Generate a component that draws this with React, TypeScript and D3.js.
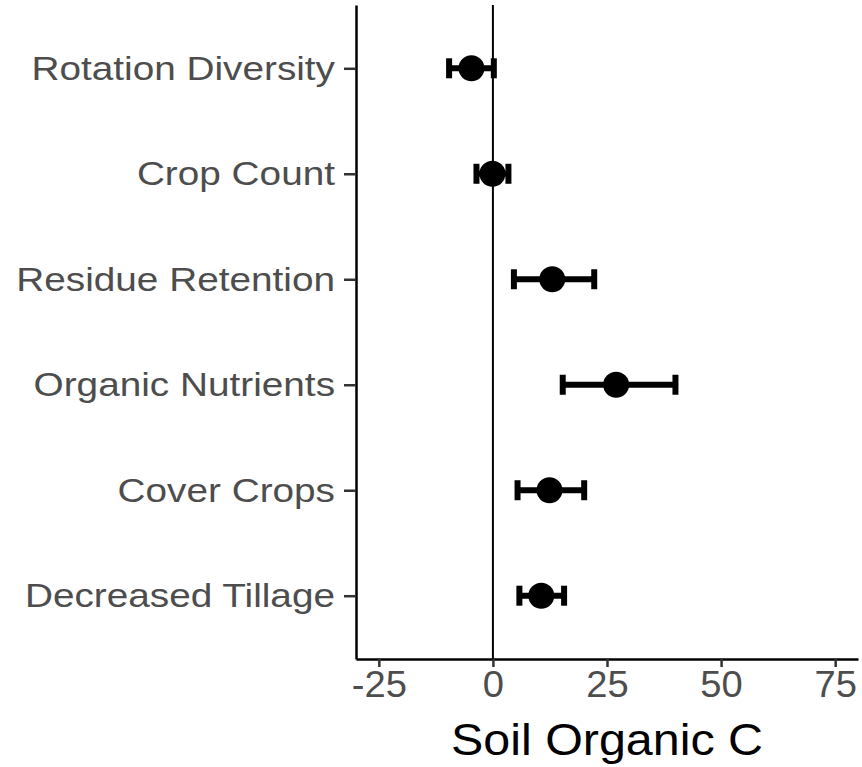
import { useEffect, useRef } from "react"
import * as d3 from "d3"

const categories = [
  "Rotation Diversity",
  "Crop Count",
  "Residue Retention",
  "Organic Nutrients",
  "Cover Crops",
  "Decreased Tillage",
]
const estimates = [-4.7, -0.1, 13.0, 27.0, 12.4, 10.6]
const lower = [-9.6, -3.6, 4.6, 15.3, 5.4, 5.8]
const upper = [0.2, 3.4, 22.2, 40.0, 20.0, 15.6]
const xTicks = [-25, 0, 25, 50, 75]
const xTitle = "Soil Organic C"

const W = 862
const H = 767

export default function App() {
  const svgRef = useRef<SVGSVGElement>(null)

  useEffect(() => {
    if (!svgRef.current) return
    const svg = d3.select(svgRef.current)
    svg.selectAll("*").remove()

    const margin = { top: 5, right: 4, bottom: 108, left: 356 }
    const x = d3.scaleLinear().domain([-30, 80]).range([margin.left, W - margin.right])
    const y = d3
      .scalePoint<string>()
      .domain(categories)
      .range([margin.top, H - margin.bottom])
      .padding(0.6)

    const font = "'Liberation Sans', Arial, Helvetica, sans-serif"
    const rows = categories.map((c, i) => ({ c, est: estimates[i], lo: lower[i], hi: upper[i] }))

    // zero reference line
    svg
      .append("line")
      .attr("x1", x(0))
      .attr("x2", x(0))
      .attr("y1", margin.top)
      .attr("y2", H - margin.bottom)
      .attr("stroke", "#000")
      .attr("stroke-width", 2)

    // error bars + points
    const g = svg.append("g")
    rows.forEach((d) => {
      const cy = y(d.c)!
      g.append("line")
        .attr("x1", x(d.lo))
        .attr("x2", x(d.hi))
        .attr("y1", cy)
        .attr("y2", cy)
        .attr("stroke", "#000")
        .attr("stroke-width", 6)
      ;[d.lo, d.hi].forEach((v) => {
        g.append("line")
          .attr("x1", x(v))
          .attr("x2", x(v))
          .attr("y1", cy - 10)
          .attr("y2", cy + 10)
          .attr("stroke", "#000")
          .attr("stroke-width", 6)
      })
      g.append("circle").attr("cx", x(d.est)).attr("cy", cy).attr("r", 13).attr("fill", "#000")
    })

    // x axis
    const xAxis = svg
      .append("g")
      .attr("transform", `translate(0, ${H - margin.bottom})`)
      .call(
        d3
          .axisBottom(x)
          .tickValues(xTicks)
          .tickSize(8)
          .tickSizeOuter(0)
          .tickPadding(4)
          .tickFormat((d) => String(d)),
      )
    xAxis.select(".domain").attr("stroke", "#000").attr("stroke-width", 2.5)
    xAxis.selectAll(".tick line").attr("stroke", "#333").attr("stroke-width", 2.5)
    xAxis
      .selectAll(".tick text")
      .attr("fill", "#4d4d4d")
      .attr("font-size", 36)
      .attr("font-family", font)
      .attr("transform", "scale(1.06,1)")

    // y axis
    const yAxis = svg
      .append("g")
      .attr("transform", `translate(${margin.left}, 0)`)
      .call(d3.axisLeft(y).tickSize(12).tickSizeOuter(0).tickPadding(8))
    yAxis.select(".domain").attr("stroke", "#000").attr("stroke-width", 2.5)
    yAxis.selectAll(".tick line").attr("stroke", "#333").attr("stroke-width", 2.5)
    yAxis
      .selectAll(".tick text")
      .attr("fill", "#4d4d4d")
      .attr("font-size", 34)
      .attr("font-family", font)
      .attr("x", 0)
      .attr("transform", "translate(-21,0) scale(1.14,1)")

    // x title
    svg
      .append("text")
      .attr("transform", `translate(${(margin.left + W - margin.right) / 2}, 755) scale(1.1,1)`)
      .attr("text-anchor", "middle")
      .attr("font-size", 44)
      .attr("font-family", font)
      .attr("fill", "#000")
      .text(xTitle)
  }, [])

  return (
    <svg
      ref={svgRef}
      width={W}
      height={H}
      style={{ position: "absolute", left: 0, top: 0, background: "#fff" }}
    />
  )
}
